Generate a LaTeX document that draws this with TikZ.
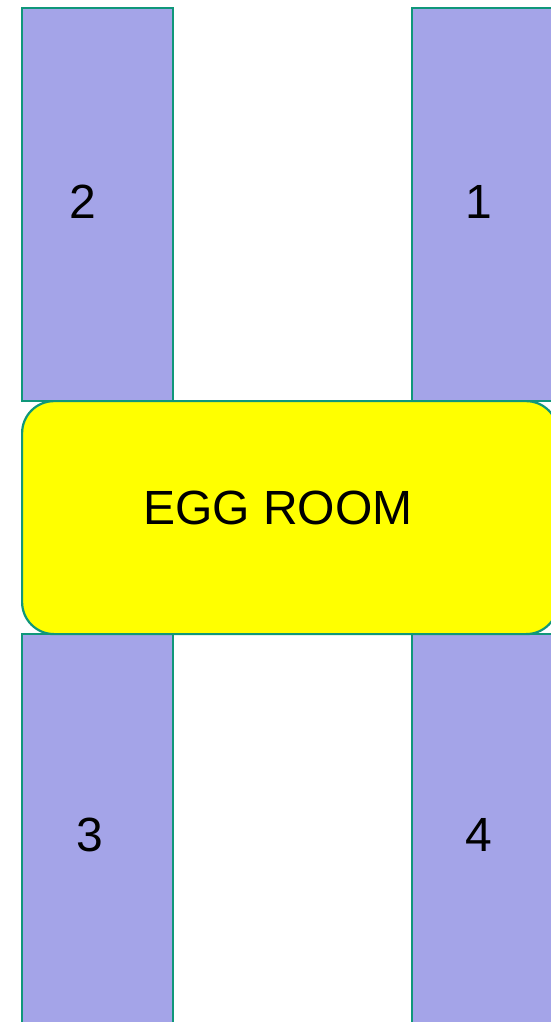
\documentclass[tikz,border=0pt]{standalone}
\usepackage{fontspec}
\setmainfont{Liberation Sans}
\definecolor{roomfill}{HTML}{A4A4E8}
\definecolor{roomline}{HTML}{10977A}
\definecolor{eggfill}{HTML}{FFFF00}
\begin{document}
\begin{tikzpicture}[x=1pt,y=-1pt,
  room/.style={draw=roomline,line width=2.2pt,fill=roomfill,rectangle,inner sep=0pt,anchor=north west},
  egg/.style={draw=roomline,line width=2.2pt,fill=eggfill,rectangle,rounded corners=32pt,inner sep=0pt,anchor=north west},
  lbl/.style={font=\fontsize{48}{50}\selectfont,inner sep=0pt}]
\useasboundingbox (0,0) rectangle (551,1022);
\clip (0,0) rectangle (551,1022);
\fill[white] (0,0) rectangle (551,1022);
\node[room,minimum width=151pt,minimum height=393pt] (r2) at (21,7) {};
\node[room,minimum width=151pt,minimum height=393pt] (r1) at (411,7) {};
\node[room,minimum width=151pt,minimum height=400pt] (r3) at (21,633) {};
\node[room,minimum width=151pt,minimum height=400pt] (r4) at (411,633) {};
\node[egg,minimum width=536pt,minimum height=233pt] (egg) at (21,400) {};
\node[lbl] (t2) at (83,202) {2};
\node[lbl] (t1) at (479,202) {1};
\node[lbl] (tegg) at (278,508) {EGG ROOM};
\node[lbl] (t3) at (90,835) {3};
\node[lbl] (t4) at (479,835) {4};
\end{tikzpicture}
\end{document}
